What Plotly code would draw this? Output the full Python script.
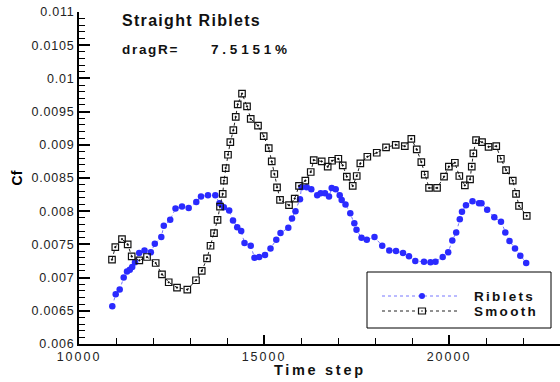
import plotly.graph_objects as go

# ---- data ----
riblets_x = [10900, 10992, 11100, 11208, 11297, 11373, 11438, 11514, 11627, 11770,
             11941, 12049, 12224, 12292, 12465, 12608, 12784, 12965, 13170, 13297,
             13486, 13684, 13797, 13914, 14059, 14162, 14276, 14384, 14473, 14641,
             14743, 14870, 15027, 15176, 15332, 15446, 15657, 15757, 15851, 15973,
             16014, 16154, 16278, 16438, 16532, 16649, 16757, 16830, 16938, 17046,
             17100, 17203, 17332, 17441, 17500, 17635, 17778, 17986, 18195, 18386,
             18568, 18757, 18919, 19089, 19324, 19500, 19635, 19830, 19978, 20089,
             20195, 20292, 20351, 20459, 20635, 20811, 20878, 21032, 21224, 21405,
             21522, 21635, 21784, 21927, 22086]
riblets_y = [0.00657, 0.00675, 0.00682, 0.00700, 0.00709, 0.00712, 0.00716, 0.00723, 0.00737, 0.00741,
             0.00738, 0.00751, 0.00761, 0.00778, 0.00787, 0.00804, 0.00807, 0.00805, 0.00814, 0.00822,
             0.00824, 0.00824, 0.00812, 0.00806, 0.00801, 0.00786, 0.00776, 0.00770, 0.00752, 0.00748,
             0.00730, 0.00731, 0.00734, 0.00744, 0.00757, 0.00767, 0.00775, 0.00789, 0.00800, 0.00818,
             0.00836, 0.00836, 0.00833, 0.00824, 0.00827, 0.00827, 0.00822, 0.00835, 0.00833, 0.00824,
             0.00817, 0.00810, 0.00797, 0.00782, 0.00772, 0.00760, 0.00757, 0.00761, 0.00748, 0.00741,
             0.00740, 0.00737, 0.00732, 0.00725, 0.00724, 0.00723, 0.00724, 0.00731, 0.00738, 0.00756,
             0.00768, 0.00788, 0.00799, 0.00809, 0.00815, 0.00812, 0.00812, 0.00802, 0.00791, 0.00784,
             0.00768, 0.00755, 0.00744, 0.00733, 0.00722]

smooth_x = [10892, 10981, 11162, 11316, 11424, 11630, 11838, 12073, 12243, 12425,
            12649, 12927, 13162, 13317, 13460, 13555, 13649, 13744, 13811, 13884,
            13919, 13965, 14027, 14090, 14171, 14236, 14290, 14406, 14541, 14641,
            14838, 14992, 15128, 15209, 15279, 15352, 15433, 15676, 15830, 15946,
            16117, 16263, 16344, 16560, 16722, 16839, 17009, 17128, 17239, 17398,
            17506, 17604, 17793, 18047, 18298, 18560, 18806, 18982, 19128, 19252,
            19344, 19461, 19677, 19866, 19996, 20158, 20279, 20428, 20569, 20615,
            20658, 20731, 20893, 21069, 21277, 21401, 21542, 21723, 21812, 21893,
            22101]
smooth_y = [0.00727, 0.00746, 0.00758, 0.00750, 0.00732, 0.00726, 0.00731, 0.00722, 0.00705, 0.00693,
            0.00685, 0.00682, 0.00696, 0.00710, 0.00729, 0.00748, 0.00767, 0.00787, 0.00807, 0.00826,
            0.00846, 0.00865, 0.00885, 0.00904, 0.00922, 0.00942, 0.00961, 0.00977, 0.00958, 0.00939,
            0.00929, 0.00913, 0.00895, 0.00875, 0.00856, 0.00836, 0.00817, 0.00809, 0.00819, 0.00838,
            0.00846, 0.00859, 0.00877, 0.00875, 0.00867, 0.00876, 0.00879, 0.00869, 0.00852, 0.00838,
            0.00853, 0.00872, 0.00882, 0.00888, 0.00896, 0.00900, 0.00898, 0.00909, 0.00893, 0.00874,
            0.00855, 0.00835, 0.00835, 0.00852, 0.00867, 0.00873, 0.00853, 0.00839, 0.00848, 0.00867,
            0.00887, 0.00907, 0.00904, 0.00897, 0.00898, 0.00879, 0.00862, 0.00846, 0.00826, 0.00808,
            0.00793]

y_tickvals = [0.006, 0.0065, 0.007, 0.0075, 0.008, 0.0085, 0.009, 0.0095, 0.01, 0.0105, 0.011]
y_ticktext = ["0.006", "0.0065", "0.007", "0.0075", "0.008", "0.0085", "0.009", "0.0095", "0.01", "0.0105", "0.011"]
x_tickvals = [10000, 15000, 20000]
x_ticktext = ["10000", "15000", "20000"]

series_names = ["Riblets", "Smooth"]
title_text = "Straight Riblets"
drag_label = "dragR="
drag_value = "7.5151%"
x_title = "Time step"
y_title = "Cf"

FONT = "Liberation Sans, Arial, sans-serif"
BLUE = "#2a2aff"
LBLUE = "#7777ff"


def spaced(s, ls=1.5):
    return '<span style="letter-spacing:%spx">%s</span>' % (ls, s)


fig = go.Figure()
fig.add_trace(go.Scatter(
    x=riblets_x, y=riblets_y, mode="lines+markers", name=series_names[0],
    line=dict(color=LBLUE, width=1, dash="dot"),
    marker=dict(symbol="circle", size=6.5, color=BLUE, line=dict(width=0)),
    showlegend=False))
fig.add_trace(go.Scatter(
    x=smooth_x, y=smooth_y, mode="lines+markers", name=series_names[1],
    line=dict(color="#222222", width=1, dash="dot"),
    marker=dict(symbol="square-open-dot", size=6.5, color="#111111", line=dict(width=1.2)),
    showlegend=False))

axis_common = dict(
    showline=True, linecolor="black", linewidth=2, showgrid=False, zeroline=False,
    ticks="inside", tickcolor="black", tickwidth=2,
    tickfont=dict(family=FONT, size=12.5, color="#222222"),
)

fig.update_xaxes(
    range=[10000, 23000], tickmode="array", tickvals=x_tickvals,
    ticktext=[spaced(t, 2) for t in x_ticktext], ticklen=9,
    minor=dict(ticks="inside", dtick=1000, ticklen=6, tickwidth=1, tickcolor="black", showgrid=False),
    **axis_common)
fig.update_yaxes(
    range=[0.006, 0.011], tickmode="array", tickvals=y_tickvals,
    ticktext=[spaced(t, 0.8) for t in y_ticktext], ticklen=11,
    minor=dict(ticks="inside", dtick=0.0001, ticklen=6, tickwidth=1, tickcolor="black", showgrid=False),
    title=dict(text="<b>" + y_title + "</b>", font=dict(family=FONT, size=14, color="black"), standoff=6),
    **axis_common)

# plot area: x 79..560, y 12..344 (px)
W, H = 560, 382
L, R, T, B = 79, 0, 12, 38
pw, ph = W - L - R, H - T - B


def px(x):
    return (x - L) / pw


def py(y):
    return (H - B - y) / ph


annotations = [
    dict(text="<b>" + spaced(title_text, 1.3) + "</b>", x=px(121), y=py(20.5), xanchor="left", yanchor="middle", size=16),
    dict(text="<b>" + spaced(drag_label, 1.7) + "</b>", x=px(121), y=py(50), xanchor="left", yanchor="middle", size=13.5),
    dict(text="<b>" + spaced(drag_value, 3.8) + "</b>", x=px(210), y=py(50), xanchor="left", yanchor="middle", size=13.5),
    dict(text="<b>" + spaced(series_names[0], 2.3) + "</b>", x=px(473), y=py(296), xanchor="left", yanchor="middle", size=13.5),
    dict(text="<b>" + spaced(series_names[1], 2.3) + "</b>", x=px(473), y=py(311), xanchor="left", yanchor="middle", size=13.5),
    dict(text="<b>" + spaced(x_title, 2.7) + "</b>", x=0.5, y=py(370.5), xanchor="center", yanchor="middle", size=14.5),
]
for a in annotations:
    sz = a.pop("size")
    a.update(xref="paper", yref="paper", showarrow=False, borderpad=0,
             font=dict(family=FONT, size=sz, color="#111111"))

# legend box drawn manually
shapes = [
    dict(type="rect", xref="paper", yref="paper", x0=px(367), x1=px(551), y0=py(328), y1=py(272),
         line=dict(color="black", width=1), fillcolor="white", layer="above"),
    dict(type="line", xref="paper", yref="paper", x0=px(382), x1=px(458), y0=py(296), y1=py(296),
         line=dict(color=LBLUE, width=1, dash="dot"), layer="above"),
    dict(type="line", xref="paper", yref="paper", x0=px(382), x1=px(458), y0=py(311), y1=py(311),
         line=dict(color="#222222", width=1, dash="dot"), layer="above"),
    dict(type="circle", xref="paper", yref="paper", xsizemode="pixel", ysizemode="pixel",
         xanchor=px(422), yanchor=py(296), x0=-3, x1=3, y0=-3, y1=3,
         fillcolor=BLUE, line=dict(width=0), layer="above"),
    dict(type="rect", xref="paper", yref="paper", xsizemode="pixel", ysizemode="pixel",
         xanchor=px(422), yanchor=py(311), x0=-3.5, x1=3.5, y0=-3, y1=3,
         fillcolor="white", line=dict(color="#111111", width=1.2), layer="above"),
    dict(type="circle", xref="paper", yref="paper", xsizemode="pixel", ysizemode="pixel",
         xanchor=px(422), yanchor=py(311), x0=-0.8, x1=0.8, y0=-0.8, y1=0.8,
         fillcolor="#111111", line=dict(width=0), layer="above"),
]

fig.update_layout(
    width=W, height=H, margin=dict(l=L, r=R, t=T, b=B, pad=0),
    paper_bgcolor="white", plot_bgcolor="white",
    showlegend=False, annotations=annotations, shapes=shapes,
    font=dict(family=FONT),
)

fig.write_html("out.html")
